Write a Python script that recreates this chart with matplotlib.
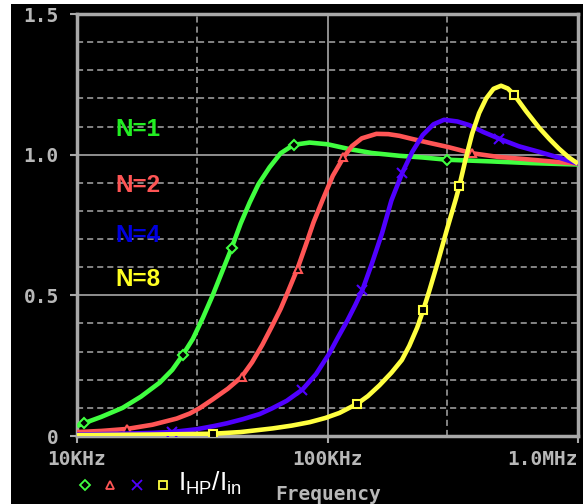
import matplotlib
matplotlib.use("Agg")
import matplotlib.pyplot as plt
from matplotlib.lines import Line2D
from matplotlib.patches import Rectangle
from matplotlib.ticker import NullLocator

# Frequency response of the high-pass current ratio for several stage counts
freq_n1 = [10e3, 10.7e3, 12.5e3, 15.2e3, 18e3, 21.4e3, 24e3, 26.4e3, 29e3, 31.8e3,
           34.8e3, 38e3, 41.5e3, 45e3, 48.9e3, 53e3, 58.7e3, 65e3, 73.2e3, 84.8e3,
           100e3, 122e3, 150e3, 194e3, 240e3, 300e3, 450e3, 650e3, 1e6]
gain_n1 = [0.035, 0.046, 0.068, 0.10, 0.14, 0.19, 0.235, 0.287, 0.345, 0.42,
           0.50, 0.585, 0.67, 0.755, 0.83, 0.895, 0.955, 1.005, 1.035, 1.043,
           1.037, 1.02, 1.006, 0.996, 0.99, 0.982, 0.976, 0.97, 0.965]
marker_freq_n1 = [10.7e3, 26.4e3, 41.5e3, 73.2e3, 300e3]

freq_n2 = [10e3, 12.5e3, 15.8e3, 20e3, 25e3, 28.2e3, 31e3, 34.8e3, 40e3, 45.4e3,
           50e3, 55e3, 60e3, 65e3, 69.3e3, 75.9e3, 82e3, 88e3, 95.4e3, 105e3,
           115.8e3, 125e3, 137e3, 156.8e3, 175e3, 193.6e3, 220e3, 254.7e3, 300e3,
           378e3, 480e3, 600e3, 800e3, 1e6]
gain_n2 = [0.014, 0.018, 0.025, 0.04, 0.062, 0.08, 0.10, 0.13, 0.168, 0.21,
           0.262, 0.325, 0.39, 0.452, 0.51, 0.595, 0.68, 0.76, 0.837, 0.925,
           0.99, 1.03, 1.058, 1.074, 1.073, 1.067, 1.055, 1.042, 1.028,
           1.005, 0.992, 0.985, 0.975, 0.968]
marker_freq_n2 = [15.8e3, 45.4e3, 75.9e3, 115.8e3, 378e3]

freq_n4 = [10e3, 14.8e3, 20e3, 23.9e3, 30e3, 35e3, 39.6e3, 46e3, 53.6e3, 60e3,
           68.7e3, 79.4e3, 90e3, 101.8e3, 110e3, 120e3, 129e3, 137.7e3, 150e3,
           165e3, 179.9e3, 199e3, 218e3, 240e3, 265e3, 292e3, 330e3, 368e3, 420e3,
           484e3, 580e3, 699e3, 850e3, 1e6]
gain_n4 = [0.005, 0.008, 0.011, 0.014, 0.024, 0.035, 0.045, 0.06, 0.078, 0.098,
           0.125, 0.165, 0.22, 0.294, 0.35, 0.41, 0.465, 0.518, 0.61,
           0.72, 0.837, 0.936, 1.01, 1.07, 1.108, 1.124, 1.118, 1.105, 1.08,
           1.057, 1.03, 1.01, 0.988, 0.968]
marker_freq_n4 = [23.9e3, 79.4e3, 137.7e3, 199e3, 484e3]

freq_n8 = [10e3, 19.5e3, 34.8e3, 45e3, 60.4e3, 72e3, 84.8e3, 98e3, 111.6e3, 131.7e3,
           145e3, 161.2e3, 180e3, 198e3, 212e3, 228e3, 241e3, 254.7e3, 275e3, 300e3,
           326e3, 335.6e3, 355e3, 378e3, 403e3, 430e3, 460e3, 493e3, 525e3, 556e3,
           620e3, 699e3, 770e3, 840e3, 920e3, 1e6]
gain_n8 = [0.003, 0.005, 0.008, 0.014, 0.027, 0.037, 0.049, 0.064, 0.082, 0.115,
           0.142, 0.18, 0.225, 0.27, 0.32, 0.385, 0.447, 0.515, 0.615, 0.735,
           0.845, 0.887, 0.98, 1.075, 1.148, 1.2, 1.234, 1.245, 1.235, 1.213,
           1.155, 1.096, 1.055, 1.021, 0.99, 0.968]
marker_freq_n8 = [34.8e3, 131.7e3, 241e3, 335.6e3, 556e3]

series_labels = ["N=1", "N=2", "N=4", "N=8"]
x_ticks = [1e4, 1e5, 1e6]
x_tick_labels = ["10KHz", "100KHz", "1.0MHz"]
y_ticks = [0, 0.5, 1.0, 1.5]
y_tick_labels = ["0", "0.5", "1.0", "1.5"]

W, H = 585, 504
GRAY = "#a8a8a8"
colors = ["#40ff40", "#ff5555", "#5000ff", "#ffff40"]
label_colors = ["#22ee22", "#ff5555", "#0000e0", "#ffff22"]
markers = ["D", "^", "x", "s"]
msizes = [5, 6, 7, 5.5]

plt.rcParams["mathtext.fontset"] = "custom"
plt.rcParams["mathtext.rm"] = "Liberation Sans"
plt.rcParams["mathtext.it"] = "Liberation Sans"

fig = plt.figure(figsize=(W / 100, H / 100), dpi=100, facecolor="white")
fig.add_artist(Rectangle((11 / W, 0), (583 - 11) / W, 1 - 4 / H,
                         transform=fig.transFigure, facecolor="black",
                         edgecolor="none", zorder=-10))

left, right, top, bottom = 77, 578, 14, 436
ax = fig.add_axes([left / W, 1 - bottom / H, (right - left) / W, (bottom - top) / H])
ax.set_facecolor("black")
ax.set_xscale("log")
ax.set_xlim(1e4, 1e6)
ax.set_ylim(0, 1.5)

# grid: solid at major values, dashed elsewhere
dash = (0, (4, 2.6))
for y in [0.1, 0.2, 0.3, 0.4, 0.6, 0.7, 0.8, 0.9, 1.1, 1.2, 1.3, 1.4]:
    ax.axhline(y, color=GRAY, lw=1.1, ls=dash, zorder=1)
for y in [0.5, 1.0]:
    ax.axhline(y, color=GRAY, lw=1.2, zorder=1)
for x in [3e4, 3e5]:
    ax.axvline(x, color=GRAY, lw=1.1, ls=dash, zorder=1)
ax.axvline(1e5, color=GRAY, lw=1.2, zorder=1)

curves = [(freq_n1, gain_n1, marker_freq_n1), (freq_n2, gain_n2, marker_freq_n2),
          (freq_n4, gain_n4, marker_freq_n4), (freq_n8, gain_n8, marker_freq_n8)]
for (f, g, mf), c, m, ms in zip(curves, colors, markers, msizes):
    mk = [f.index(v) for v in mf]
    ax.plot(f, g, color=c, lw=3.3, solid_capstyle="butt", solid_joinstyle="round",
            zorder=3, marker=m, markevery=mk, ms=ms, mfc="black", mec=c, mew=1.5)

for sp in ax.spines.values():
    sp.set_color(GRAY)
    sp.set_linewidth(2.5)
    sp.set_zorder(2)

mono = dict(family="DejaVu Sans Mono", weight="bold", size=14, color="#b8b8b8")
ax.set_yticks(y_ticks)
ax.set_yticklabels(y_tick_labels, fontdict=mono)
ax.set_xticks(x_ticks)
ax.set_xticklabels(x_tick_labels, fontdict=mono)
ax.xaxis.set_minor_locator(NullLocator())
ax.tick_params(axis="y", direction="out", length=5, width=1.5, color=GRAY, pad=8)
ax.tick_params(axis="x", direction="out", length=5, width=1.5, color=GRAY, pad=5)
ax.get_xticklabels()[-1].set_horizontalalignment("right")

# series labels
for txt, c, ypix in zip(series_labels, label_colors, [130, 185, 235, 280]):
    fig.text(115 / W, 1 - ypix / H, txt, color=c, fontsize=17.5, weight="bold",
             family="Liberation Sans", va="center", ha="left")

# legend row with trace symbols
for xpix, c, m, ms in zip([85, 110, 137, 163], colors, markers, msizes):
    fig.add_artist(Line2D([xpix / W], [1 - 485 / H], transform=fig.transFigure,
                          marker=m, ms=ms, mfc="black", mec=c, mew=1.3, ls="none"))
fig.text(178 / W, 1 - 483 / H, r"$\mathrm{I_{HP}/I_{in}}$", color="white",
         fontsize=19, va="center", ha="left")

fig.text(328 / W, 1 - 495 / H, "Frequency", ha="center", va="center", **mono)

fig.savefig("out.png", dpi=100, facecolor="white")
